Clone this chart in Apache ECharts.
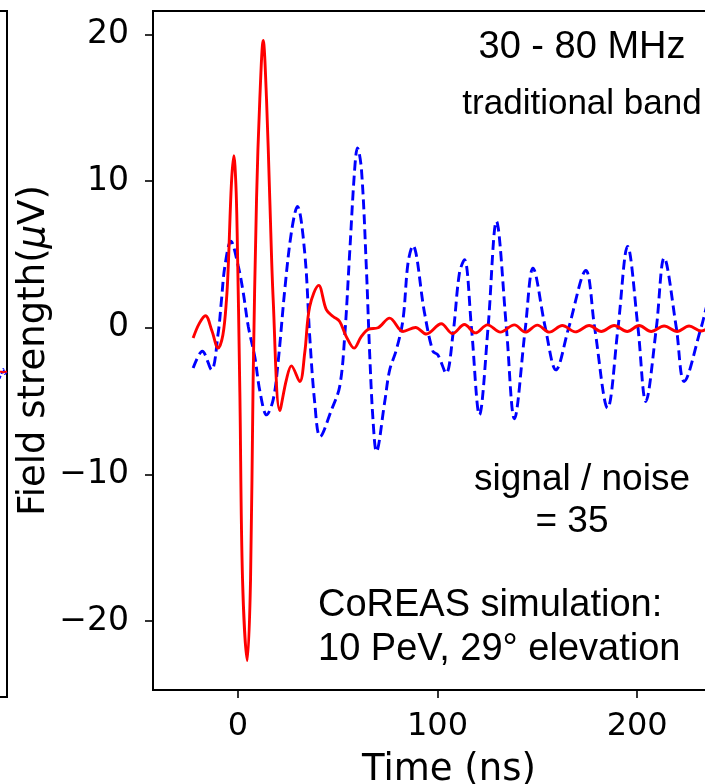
<!DOCTYPE html>
<html>
<head>
<meta charset="utf-8">
<script src="https://cdn.jsdelivr.net/npm/echarts@6/dist/echarts.min.js"></script>
<style>
html,body{margin:0;padding:0;background:#fff;}
#chart{width:705px;height:784px;}
</style>
</head>
<body>
<div id="chart"></div>
<script>
// ---- data ----
const xTicks = [0, 100, 200];
const yTicks = [-20, -10, 0, 10, 20];

// signal (red, solid): [time ns, field µV]
const signalTime = [-22.4,-19.3,-16.2,-13,-9.9,-7.5,-5.7,-4.8,-3.2,-2,-1,-0.35,1,2.35,4.7,6.35,7.65,9.35,11,12.7,14.35,16,17.7,21,24.3,26.8,31,33.5,36,40.5,44.3,47.7,51,54.3,58.2,61.8,65.5,70.2,76,82.7,89,94.4,101.9,107.5,113.5,119,125,131.5,138.5,144,150,156,162.5,169,176,182,188.5,195,201,207,213.5,220,226,232,236];
const signalValue = [-0.7,0.3,0.82,-0.2,-1.39,-0.5,1.9,4.2,9.9,11.74,9.8,6.5,-4.4,-17.2,-22.7,-17.2,-3.55,8.74,15.6,19.6,15.6,8.74,1.9,-5.65,-3.55,-2.6,-3.67,-1.7,1.45,2.89,1.23,0.77,0.43,-0.6,-1.39,-0.6,-0.09,0.0,0.66,-0.25,0.02,-0.43,0.27,-0.4,0.22,-0.35,0.2,-0.3,0.2,-0.3,0.18,-0.3,0.15,-0.28,0.15,-0.25,0.15,-0.25,0.15,-0.25,0.12,-0.25,0.12,-0.22,0.0];

// noise (blue, dashed)
const noiseTime = [-22.4,-17.8,-13.2,-9.85,-8.2,-6.5,-3.5,0.2,2.7,5.2,8.5,11,14.4,17.7,20.2,23.5,26.8,29.8,33.5,36,38.5,41.2,46.9,51,53.5,56,58.5,59.9,61.9,64.4,66,67.7,69.4,73.5,76,79.4,82.7,85.2,87.6,93.5,97.7,100.2,104.3,107.8,111,113.5,117,121,125.3,129.5,134.5,138.5,144,147.8,154,159.3,165.7,174.3,178.7,185.2,190.4,195.2,200.4,204.3,209.6,213.5,219.6,223.5,232,233.5,236];
const noiseValue = [-2.75,-1.6,-2.87,-0.36,1.9,4.2,5.9,4.2,2.4,0.1,-2.0,-4.3,-5.94,-4.9,-2.3,2.6,6.5,8.28,5.1,-0.6,-5.1,-7.42,-5.6,-4.0,-0.6,5.1,10.8,12.27,10.8,3.96,-1.7,-6.3,-8.44,-5.1,-2.9,-1.5,0.55,4.4,5.6,1.0,-1.6,-1.85,-3.1,-0.37,3.75,4.64,0,-5.94,0,7.26,0,-6.2,0,4.07,0,-2.87,0,3.9,0,-5.48,0,5.55,0,-5.03,0,4.76,0,-3.66,0,0.77,2.2];

// fragment of the neighbouring (cut-off) panel on the left
const nbTime = [9.3, 9.5, 9.65, 9.8, 10.0];
const nbSignal = [-1.3, -1.3, -1.35, -1.3, -1.3];
const nbNoise = [-1.8, -1.4, -1.1, -1.45, -1.3];

const zip = (a, b) => a.map((t, i) => [t, b[i]]);
const minus = v => String(v).replace('-', '\u2212');

const chart = echarts.init(document.getElementById('chart'), null, {renderer: 'canvas'});
const tickFont = 'DejaVu Sans';
const annFont = 'Liberation Sans, Arial, sans-serif';

chart.setOption({
  animation: false,
  backgroundColor: '#fff',
  grid: [
    {left: 153, top: 11, width: 592, height: 679, show: true, borderColor: '#000', borderWidth: 2, containLabel: false, outerBoundsMode: 'none'},
    {left: -100, top: 11, width: 107, height: 686, show: true, borderColor: '#000', borderWidth: 2, containLabel: false, outerBoundsMode: 'none'}
  ],
  xAxis: [
    {
      type: 'value', gridIndex: 0, min: -42.5, max: 254,
      axisLine: {show: true, onZero: false, lineStyle: {color: '#000', width: 2}},
      axisTick: {show: true, inside: false, length: 8, customValues: xTicks, lineStyle: {color: '#000', width: 1.6}},
      axisLabel: {customValues: xTicks, color: '#000', fontFamily: tickFont, fontSize: 32, margin: 21, formatter: minus},
      splitLine: {show: false},
      name: 'Time (ns)', nameLocation: 'middle', nameGap: 62,
      nameTextStyle: {color: '#000', fontFamily: tickFont, fontSize: 37}
    },
    {type: 'value', gridIndex: 1, min: 0, max: 10, show: false}
  ],
  yAxis: [
    {
      type: 'value', gridIndex: 0, min: -24.7, max: 21.6,
      axisLine: {show: true, onZero: false, lineStyle: {color: '#000', width: 2}},
      axisTick: {show: true, inside: false, length: 8, customValues: yTicks, lineStyle: {color: '#000', width: 1.6}},
      axisLabel: {customValues: yTicks, color: '#000', fontFamily: tickFont, fontSize: 33, margin: 24, formatter: minus},
      splitLine: {show: false},
      name: 'Field strength({i|μ}V)', nameLocation: 'middle', nameGap: 100, nameMoveOverlap: false,
      nameTextStyle: {color: '#000', fontFamily: tickFont, fontSize: 37,
        rich: {i: {fontStyle: 'italic', fontFamily: tickFont, fontSize: 37, color: '#000'}}}
    },
    {type: 'value', gridIndex: 1, min: -25, max: 25, show: false}
  ],
  series: [
    {
      type: 'line', xAxisIndex: 0, yAxisIndex: 0, data: zip(noiseTime, noiseValue),
      showSymbol: false, smooth: 0.35, z: 2,
      lineStyle: {color: '#0000ff', width: 2.9, type: [10, 5]}
    },
    {
      type: 'line', xAxisIndex: 0, yAxisIndex: 0, data: zip(signalTime, signalValue),
      showSymbol: false, smooth: 0.35, z: 3,
      lineStyle: {color: '#ff0000', width: 2.9}
    },
    {
      type: 'line', xAxisIndex: 1, yAxisIndex: 1, data: zip(nbTime, nbNoise),
      showSymbol: false, smooth: 0.3, lineStyle: {color: '#0000ff', width: 2, type: [3, 2]}
    },
    {
      type: 'line', xAxisIndex: 1, yAxisIndex: 1, data: zip(nbTime, nbSignal),
      showSymbol: false, smooth: 0.3, lineStyle: {color: '#ff0000', width: 2}
    }
  ],
  graphic: [
    {type: 'text', x: 582, y: 48, style: {text: '30 - 80 MHz', font: '38px ' + annFont, fill: '#000', align: 'center', verticalAlign: 'middle'}},
    {type: 'text', x: 582, y: 104, style: {text: 'traditional band', font: '35px ' + annFont, fill: '#000', align: 'center', verticalAlign: 'middle'}},
    {type: 'text', x: 582, y: 480, style: {text: 'signal / noise', font: '37px ' + annFont, fill: '#000', align: 'center', verticalAlign: 'middle'}},
    {type: 'text', x: 572, y: 522, style: {text: '= 35', font: '37px ' + annFont, fill: '#000', align: 'center', verticalAlign: 'middle'}},
    {type: 'text', x: 318, y: 606, style: {text: 'CoREAS simulation:', font: '38px ' + annFont, fill: '#000', align: 'left', verticalAlign: 'middle'}},
    {type: 'text', x: 318, y: 650, style: {text: '10 PeV, 29° elevation', font: '38px ' + annFont, fill: '#000', align: 'left', verticalAlign: 'middle'}}
  ]
});
</script>
</body>
</html>
